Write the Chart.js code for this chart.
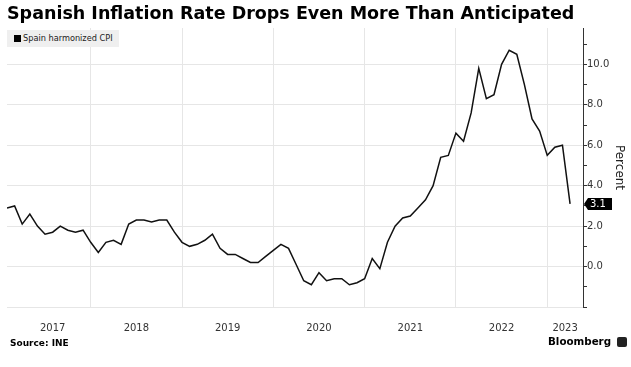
<!DOCTYPE html>
<html>
<head>
<meta charset="utf-8">
<script src="https://cdn.jsdelivr.net/npm/chart.js@4"></script>
<style>
  body { margin: 0; background: #fff; }
  #wrap { position: relative; width: 631px; height: 367px; font-family: "DejaVu Sans", Verdana, sans-serif; }
  #chart { position: absolute; left: 0; top: 0; }
  .title { position: absolute; left: 7px; top: 3px; font-size: 17.5px; font-weight: bold; color: #000; white-space: nowrap; }
  .legend { position: absolute; left: 7px; top: 30px; width: 112px; height: 17px; background: #efefef; font-size: 8.2px; color: #222; line-height: 17px; white-space: nowrap; }
  .legend i { position: absolute; left: 7px; top: 5px; width: 7px; height: 7px; background: #000; }
  .legend span { position: absolute; left: 16px; top: 0; }
  .source { position: absolute; left: 10px; top: 338px; font-size: 9px; font-weight: bold; color: #000; }
  .brand { position: absolute; left: 548px; top: 335px; font-size: 10.3px; font-weight: bold; color: #000; }
  .brand b { position: absolute; left: 69px; top: 2px; width: 10px; height: 10px; background: #222; border-radius: 2px; }
</style>
</head>
<body>
<div id="wrap">
  <canvas id="chart" width="631" height="367"></canvas>
  <div class="title">Spanish Inflation Rate Drops Even More Than Anticipated</div>
  <div class="legend"><i></i><span>Spain harmonized CPI</span></div>
  <div class="source">Source: INE</div>
  <div class="brand">Bloomberg<b></b></div>
</div>
<script>
// Spain harmonized CPI, YoY %, monthly (Jan 2017 - Mar 2023)
const years = ["2017", "2018", "2019", "2020", "2021", "2022", "2023"];
const cpi2017 = [2.9, 3.0, 2.1, 2.6, 2.0, 1.6, 1.7, 2.0, 1.8, 1.7, 1.8, 1.2];
const cpi2018 = [0.7, 1.2, 1.3, 1.1, 2.1, 2.3, 2.3, 2.2, 2.3, 2.3, 1.7, 1.2];
const cpi2019 = [1.0, 1.1, 1.3, 1.6, 0.9, 0.6, 0.6, 0.4, 0.2, 0.2, 0.5, 0.8];
const cpi2020 = [1.1, 0.9, 0.1, -0.7, -0.9, -0.3, -0.7, -0.6, -0.6, -0.9, -0.8, -0.6];
const cpi2021 = [0.4, -0.1, 1.2, 2.0, 2.4, 2.5, 2.9, 3.3, 4.0, 5.4, 5.5, 6.6];
const cpi2022 = [6.2, 7.6, 9.8, 8.3, 8.5, 10.0, 10.7, 10.5, 9.0, 7.3, 6.7, 5.5];
const cpi2023 = [5.9, 6.0, 3.1];
const yTicks = [-2, -1, 0, 1, 2, 3, 4, 5, 6, 7, 8, 9, 10, 11];

const cpi = [].concat(cpi2017, cpi2018, cpi2019, cpi2020, cpi2021, cpi2022, cpi2023);
// month-end positions: Jan 2017 -> 1, year starts at 12, 24, ...
const points = cpi.map((v, i) => ({ x: i + 1, y: v }));
const xMax = 76.7;

const lastLabel = {
  id: "lastLabel",
  afterDatasetsDraw(chart) {
    const ctx = chart.ctx;
    const y = chart.scales.y.getPixelForValue(cpi[cpi.length - 1]);
    const x0 = chart.chartArea.right + 1;
    ctx.save();
    ctx.fillStyle = "#000";
    ctx.beginPath();
    ctx.moveTo(x0, y);
    ctx.lineTo(x0 + 4, y - 6);
    ctx.lineTo(x0 + 28, y - 6);
    ctx.lineTo(x0 + 28, y + 6);
    ctx.lineTo(x0 + 4, y + 6);
    ctx.closePath();
    ctx.fill();
    ctx.fillStyle = "#fff";
    ctx.font = "10px 'DejaVu Sans'";
    ctx.textBaseline = "middle";
    ctx.fillText(cpi[cpi.length - 1].toFixed(1), x0 + 6, y + 0.5);
    ctx.restore();
  }
};

new Chart(document.getElementById("chart"), {
  type: "line",
  data: {
    datasets: [{
      label: "Spain harmonized CPI",
      data: points,
      borderColor: "#111",
      borderWidth: 1.5,
      pointRadius: 0,
      tension: 0
    }]
  },
  options: {
    responsive: false,
    animation: false,
    layout: { padding: { left: 7, top: 28, right: 0, bottom: 0 } },
    plugins: { legend: { display: false }, tooltip: { enabled: false } },
    scales: {
      x: {
        type: "linear",
        min: 1,
        max: xMax,
        afterBuildTicks: (s) => {
          const t = [7];
          for (let v = 12; v <= 72; v += 6) t.push(v);
          t.push((72 + xMax) / 2);
          s.ticks = t.map(v => ({ value: v }));
        },
        afterFit: (s) => { s.height = 60; },
        grid: {
          color: (c) => (c.tick && c.tick.value % 12 === 0 ? "#e6e6e6" : "rgba(0,0,0,0)"),
          drawTicks: false
        },
        border: { display: false },
        ticks: {
          autoSkip: false,
          maxRotation: 0,
          padding: 15,
          color: "#333",
          font: { family: "DejaVu Sans", size: 10 },
          callback: (v) => (v % 12 === 0 ? "" : years[Math.floor((v - 1) / 12)])
        }
      },
      y: {
        position: "right",
        min: -2,
        max: 11.8,
        afterBuildTicks: (s) => { s.ticks = yTicks.map(v => ({ value: v })); },
        afterFit: (s) => { s.width = 48; },
        grid: {
          color: (c) => (c.tick && c.tick.value % 2 === 0 ? "#e6e6e6" : "rgba(0,0,0,0)"),
          tickColor: "#333",
          tickLength: 4
        },
        border: { display: true, color: "#333", width: 1 },
        ticks: {
          padding: 0,
          color: "#333",
          font: { family: "DejaVu Sans", size: 10 },
          callback: (v) => (v >= 0 && v % 2 === 0 ? v.toFixed(1) : "")
        },
        title: {
          display: true,
          text: "Percent",
          color: "#222",
          font: { family: "DejaVu Sans", size: 12 },
          padding: { top: 5, bottom: 0 }
        }
      }
    }
  },
  plugins: [lastLabel]
});
</script>
</body>
</html>
